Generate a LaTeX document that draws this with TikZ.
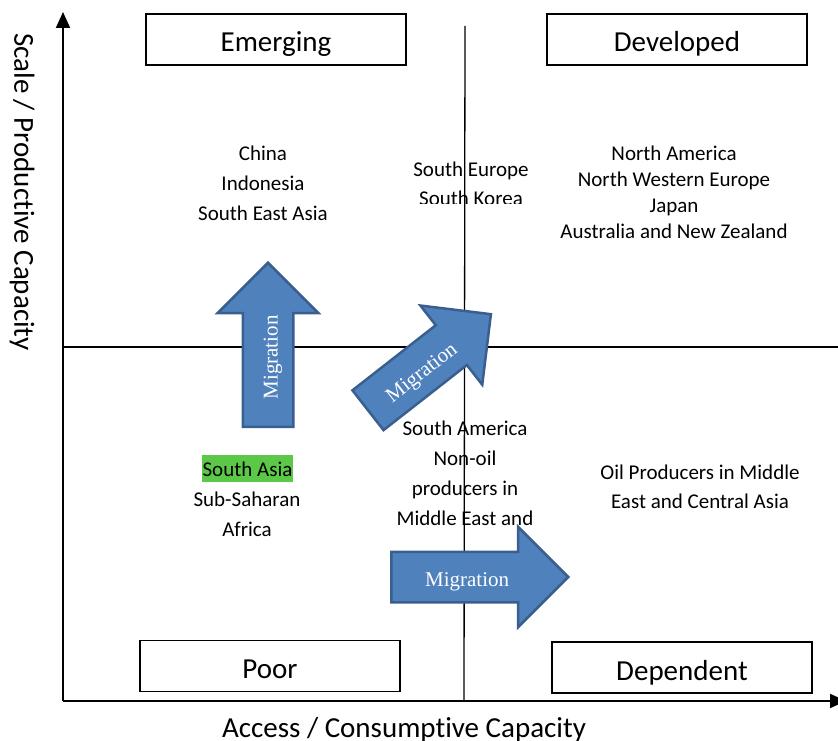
\documentclass[tikz,border=0pt]{standalone}
\usepackage{fontspec}
\setmainfont{Carlito}[Ligatures=CommonOff]
\newfontfamily\migrfont{Liberation Serif}
\usetikzlibrary{shapes.arrows,arrows.meta}
\definecolor{arrowblue}{RGB}{79,129,189}
\definecolor{arrowedge}{RGB}{58,95,142}
\definecolor{hlgreen}{RGB}{92,200,72}

\begin{document}
\begin{tikzpicture}
  [x=1pt, y=-1pt,
    quadbox/.style={draw, line width=1.5pt, minimum width=260pt, minimum height=51pt,
      text height=30pt, text depth=5pt, font=\fontsize{29}{35}\selectfont},
    region/.style={align=center, font=\fontsize{21}{30}\selectfont},
    axislabel/.style={font=\fontsize{29}{35}\selectfont},
    migr/.style={single arrow, draw=arrowedge, fill=arrowblue, line width=2.5pt,
      text=white, minimum width=98pt, single arrow head extend=25pt,
      text height=19pt, text depth=0pt, inner ysep=14.5pt,
      font=\migrfont\fontsize{21}{25}\selectfont},
  ]
  \useasboundingbox (0,0) rectangle (838,741);

  % quadrant titles
  \node[quadbox] (emerging) at (276,39.5) {Emerging};
  \node[quadbox] (developed) at (677,39.5) {Developed};
  \node[quadbox] (poor) at (270,666) {Poor};
  \node[quadbox] (dependent) at (682,667.5) {Dependent};

  % countries
  \node[region] (emergtext) at (263,183) {China\\Indonesia\\South East Asia};
  \node[region, font=\fontsize{21}{26}\selectfont] (devtext) at (674,192)
    {North America\\North Western Europe\\Japan\\Australia and New Zealand};
  \begin{scope}
    \clip (380,140) rectangle (560,203);
    \node[region, font=\fontsize{21}{29}\selectfont] (southeu) at (471,183.5)
      {South Europe\\South Korea};
  \end{scope}
  \node[region] (southam) at (465,473)
    {South America\\Non-oil\\producers in\\Middle East and};
  \node[region, font=\fontsize{21}{29}\selectfont] (oiltext) at (700,486.5)
    {Oil Producers in Middle\\East and Central Asia};
  \node[fill=hlgreen, font=\fontsize{21}{25}\selectfont, text height=17pt,
    text depth=2pt, inner xsep=1pt, inner ysep=4pt] (southasia) at (247.5,468.5)
    {South Asia};
  \node[region] (subsahara) at (247,514) {Sub-Saharan\\Africa};

  % axes and dividers
  \coordinate (origin) at (63,701);
  \coordinate (ytop) at (63,12);
  \coordinate (xend) at (846,701);
  \draw[line width=2pt, -{Triangle[width=14pt,length=16pt]}] (origin) -- (ytop);
  \draw[line width=2pt, -{Triangle[width=14pt,length=16pt]}] (origin) -- (xend);
  \coordinate (vtop) at (465,26);
  \coordinate (vbot) at (464,701);
  \coordinate (hleft) at (63,347);
  \coordinate (hright) at (838,347);
  \draw[line width=1.3pt] (vtop) -- (vbot);
  \draw[line width=1.3pt] (hleft) -- (hright);

  \node[axislabel] (xlabel) at (404,730) {Access / Consumptive Capacity};
  \node[axislabel, rotate=-90] (ylabel) at (22,192) {Scale / Productive Capacity};

  % migration arrows
  \node[migr, rotate=90, minimum height=164pt, anchor=tail] (migrup) at (268,428) {Migration};
  \node[migr, rotate=38, minimum height=156pt, anchor=tail] (migrdiag) at (367,411) {Migration};
  \node[migr, minimum height=177pt, anchor=tail] (migrright) at (390,577) {Migration};
\end{tikzpicture}
\end{document}
